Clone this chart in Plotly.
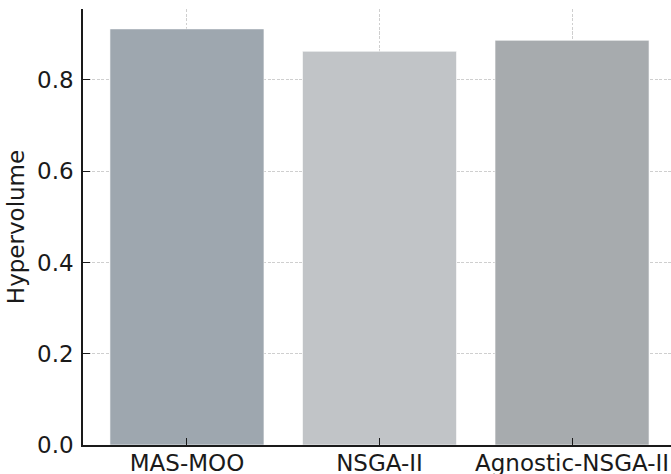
import plotly.graph_objects as go

methods = ["MAS-MOO", "NSGA-II", "Agnostic-NSGA-II"]
hypervolume = [0.912, 0.863, 0.887]
bar_colors = ["#9ea7af", "#c1c4c7", "#a7abae"]
y_ticks = [0.0, 0.2, 0.4, 0.6, 0.8]

fig = go.Figure(
    go.Bar(
        x=methods,
        y=hypervolume,
        width=0.8,
        marker=dict(color=bar_colors, line=dict(color="rgba(255,255,255,0.6)", width=1)),
    )
)

font = dict(family="DejaVu Sans", size=23, color="#1a1a1a")

axis_common = dict(
    showline=True,
    linecolor="#1a1a1a",
    linewidth=1.5,
    ticks="inside",
    ticklen=7,
    tickwidth=1.2,
    tickcolor="#1a1a1a",
    showgrid=True,
    gridcolor="#cfcfcf",
    griddash="3px,1.5px",
    gridwidth=1,
    zeroline=False,
    automargin=False,
    tickfont=dict(size=23),
)

fig.update_layout(
    width=671,
    height=474,
    margin=dict(l=83, r=0, t=9, b=29),
    plot_bgcolor="white",
    paper_bgcolor="white",
    font=font,
    showlegend=False,
    xaxis=dict(range=[-0.54, 2.514], ticklabelstandoff=-3, **axis_common),
    yaxis=dict(
        range=[0, 0.9556],
        tickvals=y_ticks,
        ticktext=[f"{v:.1f}" for v in y_ticks],
        ticklabelstandoff=3,
        title=dict(text="Hypervolume", font=dict(size=23), standoff=6),
        **axis_common,
    ),
)

fig.write_html(
    "out.html",
    config={"displayModeBar": False},
    post_script="document.body.style.margin='0';document.body.style.overflow='hidden';",
)
